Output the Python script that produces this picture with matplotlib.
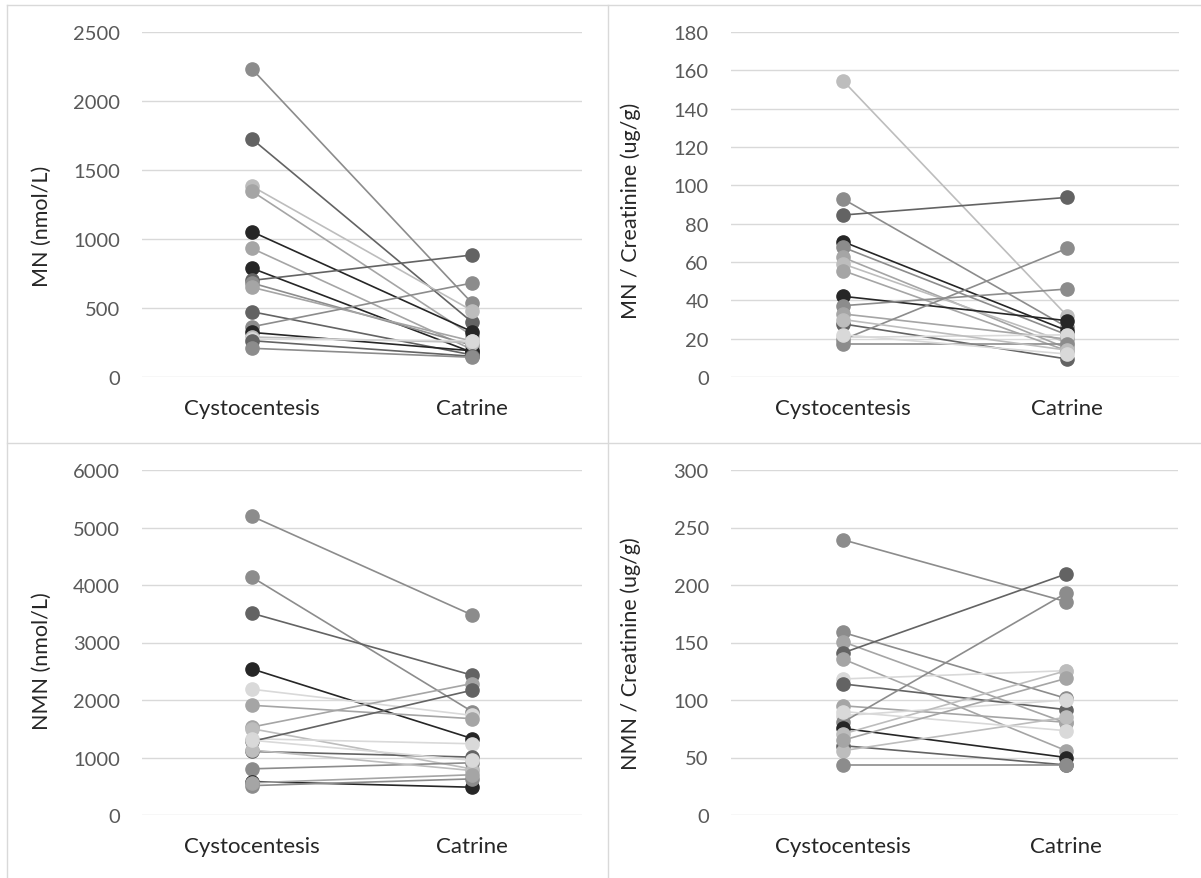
import numpy as np
import matplotlib
matplotlib.use("Agg")
import matplotlib.pyplot as plt
from matplotlib.lines import Line2D

plt.rcParams['font.family'] = ['Lato', 'DejaVu Sans']

categories = ["Cystocentesis", "Catrine"]

# MN (nmol/L)
mn_cysto = [2232, 1725, 1382, 1346, 1053, 932, 788, 700, 681, 650, 473, 364, 323, 290, 275, 263, 208]
mn_catr = [536, 398, 481, 300, 329, 200, 179, 884, 230, 260, 160, 681, 190, 250, 263, 150, 143]

# MN / Creatinine (ug/g)
mnc_cysto = [154.6, 92.9, 84.5, 70.6, 67.7, 62.4, 59.0, 55.5, 42.1, 37.2, 32.9, 27.7, 20.7, 19.5, 17.2, 30.0, 22.0]
mnc_catr = [32.0, 26.0, 93.7, 24.2, 22.0, 15.0, 18.0, 13.7, 29.4, 45.9, 19.8, 9.4, 22.0, 67.1, 17.2, 14.0, 12.0]

# NMN (nmol/L)
nmn_cysto = [5195, 4136, 3508, 2540, 2187, 1908, 1530, 1500, 1326, 1280, 1105, 803, 582, 511, 1130, 1300, 560]
nmn_catr = [3479, 1800, 2432, 1330, 1733, 1675, 2286, 800, 1239, 2170, 1007, 908, 483, 628, 773, 950, 700]

# NMN / Creatinine (ug/g)
nmnc_cysto = [239.4, 158.8, 150.7, 140.9, 135.7, 118.3, 114.0, 95.0, 86.4, 80.6, 75.4, 70.4, 60.3, 55.9, 43.5, 90.0, 65.0]
nmnc_catr = [185.5, 101.4, 80.0, 209.6, 55.9, 125.5, 91.6, 80.6, 100.0, 193.0, 50.0, 125.5, 43.5, 85.0, 43.5, 73.3, 118.8]

# grey shade of each line, per chart
BK, DK, MD, LT, PL, VL = '#262626', '#636363', '#8c8c8c', '#a5a5a5', '#bdbdbd', '#d9d9d9'
mn_greys = [MD, DK, PL, LT, BK, LT, BK, DK, MD, LT, DK, MD, BK, PL, VL, DK, MD]
mnc_greys = [PL, MD, DK, BK, MD, LT, PL, LT, BK, MD, LT, DK, VL, MD, MD, PL, VL]
nmn_greys = [MD, MD, DK, BK, VL, LT, LT, PL, VL, DK, DK, MD, BK, MD, PL, VL, LT]
nmnc_greys = [MD, MD, LT, DK, LT, VL, DK, LT, VL, MD, BK, PL, DK, PL, MD, VL, LT]

W, H = 1201, 879
fig = plt.figure(figsize=(W / 100, H / 100), dpi=100)


def panel(x0, y0, x1, y1, cysto, catr, colors, ymax, step, ylabel, label_y):
    # x0..y1 are the plot area corners in pixels from the top left
    ax = fig.add_axes([x0 / W, 1 - y1 / H, (x1 - x0) / W, (y1 - y0) / H])
    for a, b, c in zip(cysto, catr, colors):
        ax.plot([0, 1], [a, b], color=c, lw=1.2, marker='o', ms=9.5,
                mfc=c, mec=c, zorder=3)
    ax.set_xlim(-0.5, 1.5)
    ax.set_ylim(0, ymax)
    ax.set_yticks(np.arange(0, ymax + step / 2, step))
    ax.set_xticks([0, 1])
    ax.set_xticklabels(categories)
    ax.grid(axis='y', color='#d9d9d9', lw=1.0)
    ax.set_axisbelow(True)
    for s in ax.spines.values():
        s.set_visible(False)
    ax.tick_params(axis='y', length=0, pad=16, labelsize=14.5, labelcolor='#595959')
    ax.tick_params(axis='x', length=0, pad=15, labelsize=16, labelcolor='#262626')
    ax.set_ylabel(ylabel, fontsize=15.5, color='#262626')
    ax.yaxis.set_label_coords(-90 / (x1 - x0), label_y)
    return ax


panel(142, 33, 582, 378, mn_cysto, mn_catr, mn_greys, 2500, 500, "MN (nmol/L)", 0.44)
panel(731, 33, 1179, 378, mnc_cysto, mnc_catr, mnc_greys, 180, 20, "MN / Creatinine (ug/g)", 0.485)
panel(142, 471, 582, 816, nmn_cysto, nmn_catr, nmn_greys, 6000, 1000, "NMN (nmol/L)", 0.45)
panel(731, 471, 1178, 816, nmnc_cysto, nmnc_catr, nmnc_greys, 300, 50, "NMN / Creatinine (ug/g)", 0.47)

# chart borders
border = dict(color='#d9d9d9', lw=1.0, transform=fig.transFigure)
fig.add_artist(Line2D([7 / W, 7 / W], [0, 1 - 6 / H], **border))
fig.add_artist(Line2D([608 / W, 608 / W], [0, 1 - 6 / H], **border))
fig.add_artist(Line2D([7 / W, 1], [1 - 6 / H, 1 - 6 / H], **border))
fig.add_artist(Line2D([7 / W, 1], [1 - 444 / H, 1 - 444 / H], **border))

fig.savefig("out.png", dpi=100, facecolor='white')
